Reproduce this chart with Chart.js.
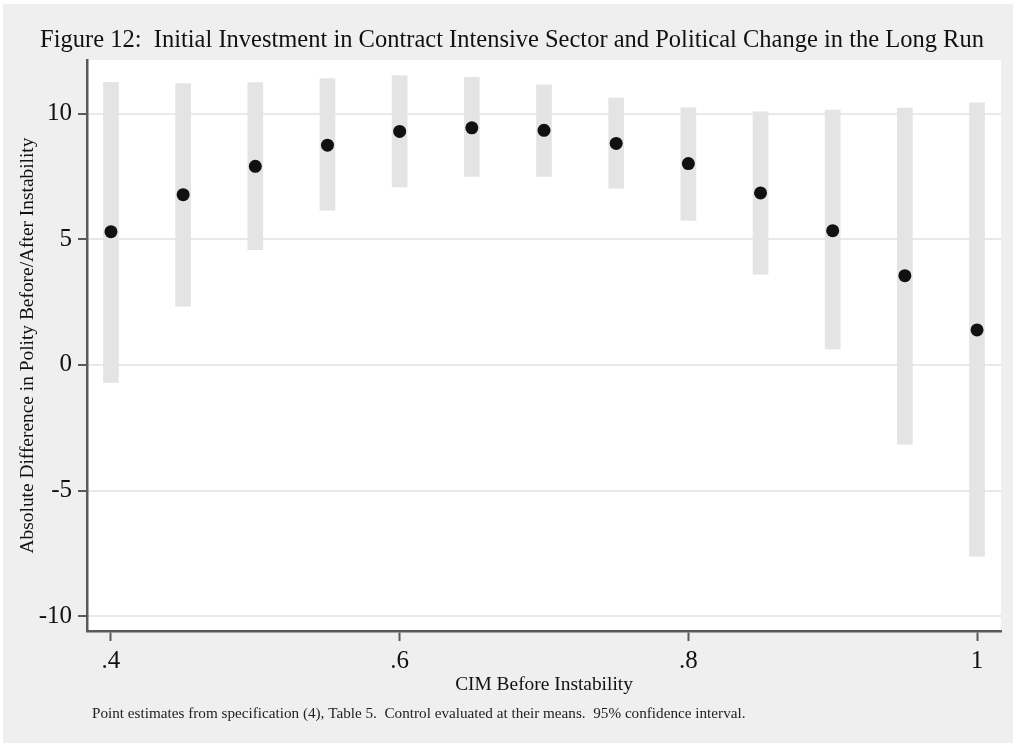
<!DOCTYPE html>
<html>
<head>
<meta charset="utf-8">
<title>Figure 12</title>
<script src="https://cdn.jsdelivr.net/npm/chart.js@4.4.1/dist/chart.umd.min.js"></script>
<style>
  html, body { margin: 0; padding: 0; background: #ffffff; }
  #wrap { position: relative; width: 1013px; height: 743px; }
</style>
</head>
<body>
<div id="wrap"><canvas id="chart" width="1013" height="743"></canvas></div>
<script>
// CIM before instability (x positions of the estimates)
const cim = [0.40, 0.45, 0.50, 0.55, 0.60, 0.65, 0.70, 0.75, 0.80, 0.85, 0.90, 0.95, 1.00];
// Point estimates of the absolute polity difference
const estimate = [5.30, 6.77, 7.90, 8.74, 9.29, 9.43, 9.33, 8.81, 8.01, 6.84, 5.34, 3.55, 1.39];
// 95% confidence interval bounds
const ciLow  = [-0.70, 2.33, 4.58, 6.15, 7.08, 7.50, 7.50, 7.03, 5.75, 3.61, 0.63, -3.16, -7.61];
const ciHigh = [11.24, 11.19, 11.23, 11.39, 11.51, 11.44, 11.14, 10.61, 10.23, 10.07, 10.14, 10.22, 10.43];
// Axis ticks
const xTicks = [0.4, 0.6, 0.8, 1.0];
const xTickLabels = ['.4', '.6', '.8', '1'];
const yTicks = [-10, -5, 0, 5, 10];
const yTickLabels = ['-10', '-5', '0', '5', '10'];

const titleText = 'Figure 12:  Initial Investment in Contract Intensive Sector and Political Change in the Long Run';
const noteText = 'Point estimates from specification (4), Table 5.  Control evaluated at their means.  95% confidence interval.';

const SERIF = '"Liberation Serif", "Times New Roman", Times, serif';
const AXIS_COLOR = '#5a5a5a';

// Light gray page with a white plot region
const backdrop = {
  id: 'backdrop',
  beforeDraw(chart) {
    const { ctx, chartArea: a } = chart;
    ctx.save();
    ctx.fillStyle = '#efefef';
    ctx.fillRect(3, 4, chart.width - 3, chart.height - 4);
    ctx.fillStyle = '#ffffff';
    ctx.fillRect(a.left, a.top, a.right - a.left, a.bottom - a.top);
    ctx.restore();
  }
};

// Heading above the plot and footnote under the axis title
const captions = {
  id: 'captions',
  afterDraw(chart) {
    const { ctx } = chart;
    ctx.save();
    ctx.fillStyle = '#111';
    ctx.textBaseline = 'middle';
    ctx.font = '24.5px ' + SERIF;
    ctx.textAlign = 'center';
    ctx.fillText(titleText, 512, 41);
    ctx.fillStyle = '#222';
    ctx.font = '15.2px ' + SERIF;
    ctx.textAlign = 'left';
    ctx.fillText(noteText, 92, 714);
    ctx.restore();
  }
};

new Chart(document.getElementById('chart'), {
  type: 'bar',
  data: {
    datasets: [
      {
        type: 'line',
        label: 'Estimate',
        data: cim.map((x, i) => ({ x: x, y: estimate[i] })),
        showLine: false,
        pointRadius: 6.5,
        pointHoverRadius: 6.5,
        pointBackgroundColor: '#111111',
        pointBorderWidth: 0,
        borderColor: '#111111',
        order: 0
      },
      {
        type: 'bar',
        label: '95% CI',
        data: cim.map((x, i) => ({ x: x, y: [ciLow[i], ciHigh[i]] })),
        backgroundColor: '#e4e4e4',
        borderWidth: 0,
        barThickness: 15,
        order: 1
      }
    ]
  },
  plugins: [backdrop, captions],
  options: {
    responsive: false,
    animation: false,
    events: [],
    layout: { padding: { left: 0, right: 12, top: 60, bottom: 43 } },
    plugins: {
      legend: { display: false },
      tooltip: { enabled: false },
      title: { display: false }
    },
    scales: {
      x: {
        type: 'linear',
        min: 0.3834,
        max: 1.0166,
        offset: false,
        afterBuildTicks: (s) => { s.ticks = xTicks.map(v => ({ value: v })); },
        afterFit: (s) => { s.height = 69; },
        ticks: {
          callback: (v) => xTickLabels[xTicks.indexOf(v)] ?? '',
          color: '#111',
          font: { family: SERIF, size: 25 },
          padding: 5,
          maxRotation: 0,
          autoSkip: false
        },
        grid: {
          offset: false,
          drawOnChartArea: false,
          drawTicks: true,
          tickLength: 10,
          tickWidth: 2,
          tickColor: AXIS_COLOR
        },
        border: { display: true, color: AXIS_COLOR, width: 2.5 },
        title: {
          display: true,
          text: 'CIM Before Instability',
          color: '#111',
          font: { family: SERIF, size: 19.4 },
          padding: { top: 0, bottom: 3 }
        }
      },
      y: {
        type: 'linear',
        min: -10.59,
        max: 12.13,
        afterBuildTicks: (s) => { s.ticks = yTicks.map(v => ({ value: v })); },
        afterFit: (s) => { s.width = 87; },
        ticks: {
          callback: (v) => yTickLabels[yTicks.indexOf(v)] ?? '',
          color: '#111',
          font: { family: SERIF, size: 25 },
          padding: 6
        },
        grid: {
          color: '#e9e9e9',
          lineWidth: 2,
          drawTicks: true,
          tickLength: 9,
          tickWidth: 2,
          tickColor: AXIS_COLOR
        },
        border: { display: true, color: AXIS_COLOR, width: 2.5 },
        title: {
          display: true,
          text: 'Absolute Difference in Polity Before/After Instability',
          color: '#111',
          font: { family: SERIF, size: 19.4 },
          padding: { top: 16, bottom: 0 }
        }
      }
    }
  }
});
</script>
</body>
</html>
